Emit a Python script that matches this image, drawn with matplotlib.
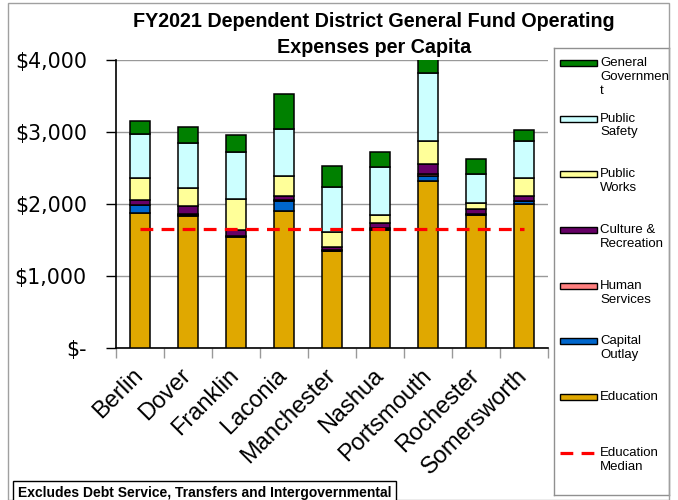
import numpy as np
import matplotlib.pyplot as plt
import matplotlib.transforms as mtransforms
from matplotlib.patches import Rectangle
from matplotlib.lines import Line2D
from matplotlib.ticker import FixedLocator, FuncFormatter

# ---------------------------------------------------------------------
# Data (per capita $)
cities = ["Berlin", "Dover", "Franklin", "Laconia", "Manchester",
          "Nashua", "Portsmouth", "Rochester", "Somersworth"]

education      = [1880, 1835, 1542, 1898, 1343, 1644, 2324, 1843, 1995]
capital_outlay = [100, 15, 15, 150, 10, 10, 65, 10, 40]
human_services = [5, 5, 5, 5, 5, 15, 23, 13, 10]
culture_rec    = [75, 115, 80, 55, 45, 70, 139, 60, 60]
public_works   = [300, 255, 425, 275, 215, 110, 329, 93, 260]
public_safety  = [611, 625, 650, 655, 615, 660, 944, 402, 509]
general_govt   = [185, 222, 245, 490, 290, 215, 240, 199, 148]

education_median = [1657] * len(cities)

series = [
    ("Education", education, "#E0A800"),
    ("Capital\nOutlay", capital_outlay, "#0066CC"),
    ("Human\nServices", human_services, "#FF8080"),
    ("Culture &\nRecreation", culture_rec, "#660066"),
    ("Public\nWorks", public_works, "#FFFF99"),
    ("Public\nSafety", public_safety, "#CCFFFF"),
    ("General\nGovernmen\nt", general_govt, "#008000"),
]

# ---------------------------------------------------------------------
W, H = 678, 500
fig = plt.figure(figsize=(W / 100, H / 100), dpi=100)

# outer chart border
fig.add_artist(Rectangle((8 / W, 0), 661 / W, 1 - 3 / H, transform=fig.transFigure,
                         fill=False, edgecolor="#A0A0A0", lw=1))

ax = fig.add_axes([116 / W, 1 - 348 / H, (548 - 116) / W, (348 - 60) / H])
x = np.arange(len(cities))
bottom = np.zeros(len(cities))
for name, vals, col in series:
    ax.bar(x, vals, width=0.4, bottom=bottom, color=col, edgecolor="black",
           linewidth=1.1, zorder=3)
    bottom += np.array(vals)

ax.plot(x, education_median, color="red", lw=2.3, linestyle=(0, (4, 2.6)), zorder=4)

ax.set_xlim(-0.5, len(cities) - 0.5)
ax.set_ylim(0, 4000)
ax.set_yticks([0, 1000, 2000, 3000, 4000])
ax.yaxis.set_major_formatter(FuncFormatter(lambda v, p: "$-" if v == 0 else f"${v:,.0f}"))
ax.grid(axis="y", color="#999999", lw=1, zorder=0)
ax.tick_params(axis="y", direction="out", length=7, width=1, pad=14,
               labelsize=14.8, labelfontfamily="DejaVu Sans")

ax.set_xticks(x)
ax.set_xticklabels(cities, rotation=45, ha="right", rotation_mode="anchor",
                   fontsize=17, fontfamily="Liberation Sans")
ax.tick_params(axis="x", which="major", length=0, pad=9)
shift = mtransforms.ScaledTranslation(-8 / 100, -4 / 100, fig.dpi_scale_trans)
for lbl in ax.get_xticklabels():
    lbl.set_transform(lbl.get_transform() + shift)
ax.xaxis.set_minor_locator(FixedLocator(np.arange(len(cities) + 1) - 0.5))
ax.tick_params(axis="x", which="minor", direction="out", length=7, width=1, color="#999999")

for s in ["top", "right"]:
    ax.spines[s].set_visible(False)
ax.spines["left"].set_linewidth(1.2)
ax.spines["bottom"].set_linewidth(1.2)

# title
fig.text(374 / W, 1 - 27 / H, "FY2021 Dependent District General Fund Operating",
         ha="center", va="baseline", fontsize=14.2, fontweight="bold",
         fontfamily="Liberation Sans")
fig.text(374 / W, 1 - 53 / H, "Expenses per Capita",
         ha="center", va="baseline", fontsize=14.2, fontweight="bold",
         fontfamily="Liberation Sans")

# legend (drawn in its own box, pixel units)
lax = fig.add_axes([554 / W, 1 - 495 / H, (669 - 554) / W, (495 - 48) / H])
lax.set_xlim(554, 669)
lax.set_ylim(495, 48)
lax.set_xticks([])
lax.set_yticks([])
for s in lax.spines.values():
    s.set_edgecolor("#909090")
    s.set_linewidth(1)

legend_items = list(reversed(series))
step = 55.7
for i, (name, vals, col) in enumerate(legend_items):
    yc = 63 + i * step
    lax.add_patch(Rectangle((560, yc - 3), 37, 6, facecolor=col,
                            edgecolor="black", lw=1))
    lax.text(600, yc - 6, name, ha="left", va="top", fontsize=9.5,
             fontfamily="Liberation Sans", linespacing=1.2)
yc = 63 + len(legend_items) * step
lax.add_line(Line2D([560, 597], [yc, yc], color="red", lw=2.3,
                    linestyle=(0, (4, 2.6))))
lax.text(600, yc - 6, "Education\nMedian", ha="left", va="top",
         fontsize=9.5, fontfamily="Liberation Sans", linespacing=1.2)

# footnote
fig.text(18 / W, 1 - 497 / H, "Excludes Debt Service, Transfers and Intergovernmental",
         ha="left", va="baseline", fontsize=10, fontweight="bold",
         fontfamily="Liberation Sans",
         bbox=dict(boxstyle="square,pad=0.35", facecolor="white", edgecolor="black", lw=1))

fig.savefig("out.png", dpi=100)
